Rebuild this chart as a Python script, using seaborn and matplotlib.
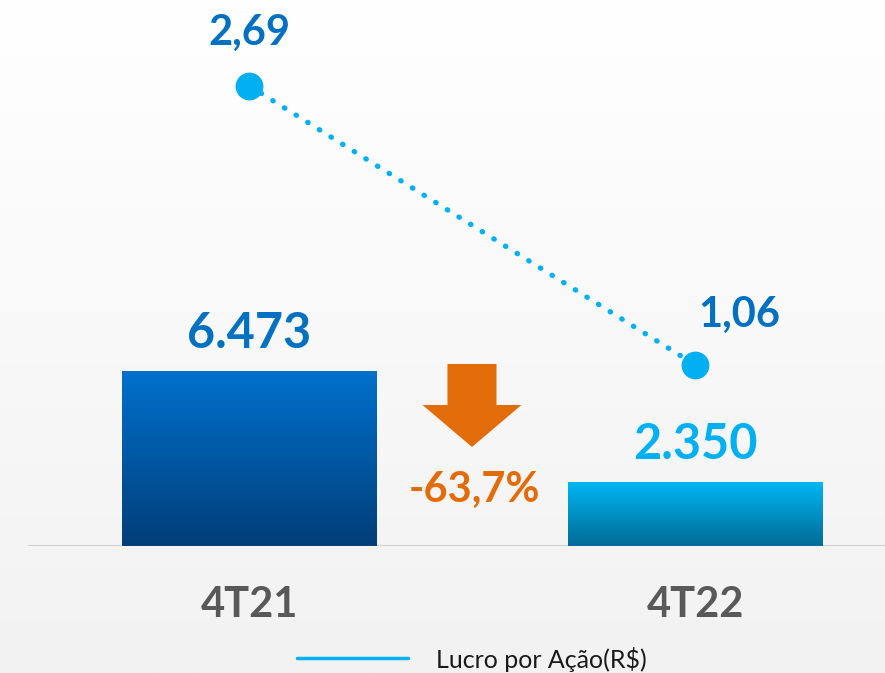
import numpy as np
import pandas as pd
import matplotlib
matplotlib.use("Agg")
import matplotlib.pyplot as plt
from matplotlib.colors import LinearSegmentedColormap
from matplotlib.lines import Line2D
import seaborn as sns

# ---- data ----
categories = ["4T21", "4T22"]
lucro = [6473, 2350]
lucro_labels = ["6.473", "2.350"]
lpa = [2.69, 1.06]
lpa_labels = ["2,69", "1,06"]
variacao_label = "-63,7%"
legend_label = "Lucro por Ação(R$)"

sns.set_theme(style="white")
plt.rcParams["font.family"] = ["Lato", "DejaVu Sans"]

W, H = 885, 673
fig = plt.figure(figsize=(W / 100, H / 100), dpi=100)

# background gradient
bg = fig.add_axes([0, 0, 1, 1], zorder=-10)
grad = np.linspace(0, 1, 256).reshape(-1, 1)
bg_cmap = LinearSegmentedColormap.from_list("bg", ["#ffffff", "#f2f2f2"])
bg.imshow(grad, aspect="auto", cmap=bg_cmap, extent=[0, 1, 0, 1], origin="upper")
bg.set_axis_off()

base_y = 546
px_unit = 445.5
x0 = 249.5
XL = (-x0 / px_unit, (W - x0) / px_unit)
ax = fig.add_axes([0, (H - base_y) / H, 1, base_y / H])
ax.patch.set_alpha(0)

df = pd.DataFrame({"cat": categories, "lucro": lucro, "lpa": lpa})
sns.barplot(data=df, x="cat", y="lucro", ax=ax, width=0.572, color="#0070c0",
            saturation=1, zorder=2)

grads = [("#0071cd", "#003e78"), ("#00b6f2", "#006b96")]
for patch, (c_top, c_bot) in zip(ax.patches, grads):
    bx, by = patch.get_x(), patch.get_y()
    bw, bh = patch.get_width(), patch.get_height()
    cmap = LinearSegmentedColormap.from_list("g", [c_top, c_bot])
    im = ax.imshow(grad, aspect="auto", cmap=cmap, extent=[bx, bx + bw, by, by + bh],
                   origin="upper", zorder=2)
    im.set_clip_path(patch)
    patch.set_facecolor("none")
    patch.set_edgecolor("none")
ax.set_xlim(*XL)
ax.set_ylim(0, 20190)

label_colors = ["#0070c0", "#00b0f0"]
for i, (v, t) in enumerate(zip(lucro, lucro_labels)):
    ax.text(i, v + 1400, t, ha="center", va="center", fontsize=35, fontweight="bold",
            color=label_colors[i])

for s in ax.spines.values():
    s.set_visible(False)
ax.set_xticks([])
ax.set_yticks([])
ax.set_xlabel("")
ax.set_ylabel("")
ax.axhline(0, xmin=28 / W, xmax=1, color="#d0d0d0", lw=1.5, zorder=1)

# category labels
for i, c in enumerate(categories):
    ax.text(i, -2170, c, ha="center", va="center", fontsize=30, fontweight="bold",
            color="#595959", clip_on=False)

# down arrow between bars
ax_x, tip_y, head_y, top_y = 0.4994, 3661, 5214, 6731
sw, hw = 0.055, 0.111
ax.fill([ax_x - sw, ax_x + sw, ax_x + sw, ax_x + hw, ax_x, ax_x - hw, ax_x - sw],
        [top_y, top_y, head_y, head_y, tip_y, head_y, head_y],
        color="#e36c0a", lw=0, zorder=3)
ax.text(0.505, 2070, variacao_label, ha="center", va="center", fontsize=30,
        fontweight="bold", color="#e36c0a")

# secondary axis line
ax2 = ax.twinx()
ax2.patch.set_alpha(0)
sns.lineplot(x=np.arange(len(categories)), y=df["lpa"], ax=ax2, color="#00b0f0",
             lw=3.8, marker="o", markersize=20, markeredgewidth=0, zorder=5,
             dashes=False)
line = ax2.lines[0]
line.set_dashes((0.1, 2.5))
line.set_dash_capstyle("round")
ax2.set_ylim(0, 3.193)
ax2.set_xlim(*XL)
for s in ax2.spines.values():
    s.set_visible(False)
ax2.set_yticks([])
ax2.set_ylabel("")
lbl_offsets = [(0.0, 0.31), (0.10, 0.29)]
for i, (v, t) in enumerate(zip(lpa, lpa_labels)):
    dx, dy = lbl_offsets[i]
    ax2.text(i + dx, v + dy, t, ha="center", va="center", fontsize=30,
             fontweight="bold", color="#0070c0")

# legend
fig.add_artist(Line2D([297 / W, 408 / W], [(H - 658) / H] * 2, color="#00b0f0", lw=2.5))
fig.text(436 / W, (H - 659) / H, legend_label, ha="left", va="center", fontsize=18,
         color="#1a1a1a")

fig.savefig("out.png", dpi=100)
